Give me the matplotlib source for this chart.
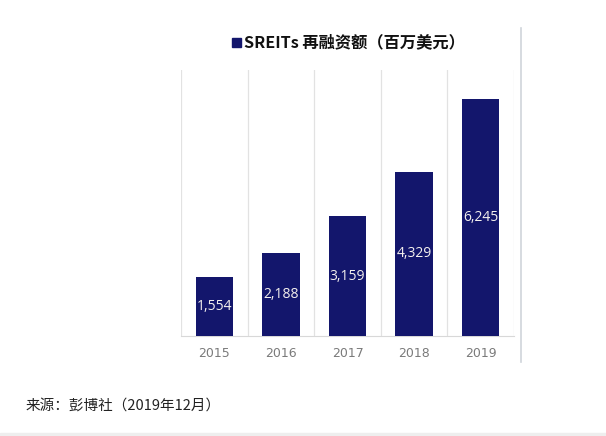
import matplotlib.pyplot as plt
import numpy as np

plt.rcParams['font.family'] = ['Noto Sans CJK SC', 'DejaVu Sans']

years = ['2015', '2016', '2017', '2018', '2019']
values = [1554, 2188, 3159, 4329, 6245]
labels = ['1,554', '2,188', '3,159', '4,329', '6,245']

fig = plt.figure(figsize=(6.06, 4.36), dpi=100)
ax = fig.add_axes([0.2987, 0.2294, 0.5495, 0.6096])

x = np.arange(len(years))
bars = ax.bar(x, values, width=0.56, color='#13166c', zorder=3)
for b, lab in zip(bars, labels):
    ax.text(b.get_x() + b.get_width() / 2, b.get_height() / 2, lab,
            ha='center', va='center', color='#f4f0ee', fontsize=10,
            family=['Open Sans', 'DejaVu Sans'], zorder=4)

ax.set_xlim(-0.5, 4.5)
ax.set_ylim(0, 7000)
ax.set_yticks([])
ax.set_xticks(x)
ax.set_xticklabels(years, color='#7a7a7a', fontsize=9, family=['DejaVu Sans'])
ax.tick_params(axis='x', length=0, pad=8)
for xv in np.arange(-0.5, 5.0, 1.0):
    ax.axvline(xv, color='#e2e2e2', linewidth=0.9, zorder=1)
for s in ['top', 'left', 'right']:
    ax.spines[s].set_visible(False)
ax.spines['bottom'].set_color('#d8d8d8')

# legend-like title
fig.patches.append(plt.Rectangle((232 / 606, 1 - 47 / 436), 9 / 606, 9 / 436,
                                 transform=fig.transFigure, color='#13166c'))
fig.text(244 / 606, 1 - 42 / 436, 'SREITs 再融资额（百万美元）', fontsize=11.7,
         fontweight='bold', va='center', ha='left', color='#111111')

# right border line
fig.add_artist(plt.Line2D([521 / 606, 521 / 606], [1 - 28 / 436, 1 - 362 / 436],
                          transform=fig.transFigure, color='#cfd4da', linewidth=1.2))

fig.text(26 / 606, 1 - 406 / 436, '来源：彭博社（2019年12月）', fontsize=10.5,
         va='center', ha='left', color='#222222')
fig.patches.append(plt.Rectangle((0, 0), 1, 3 / 436, transform=fig.transFigure,
                                 color='#eeeeee'))

fig.savefig('out.png', dpi=100)
